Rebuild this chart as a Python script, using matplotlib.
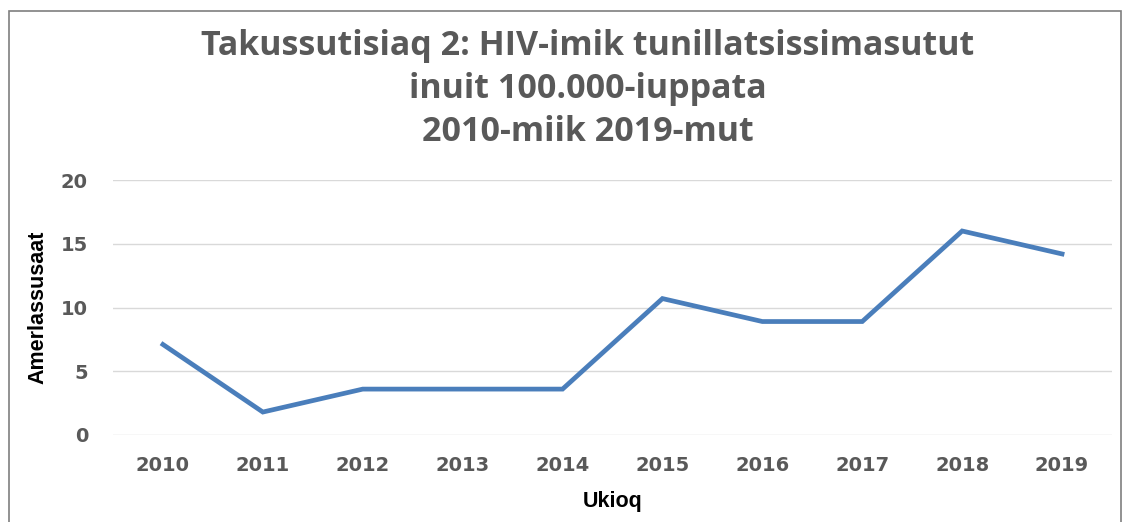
import matplotlib.pyplot as plt
from matplotlib.patches import Rectangle

years = ['2010', '2011', '2012', '2013', '2014', '2015', '2016', '2017', '2018', '2019']
rate = [7.1, 1.8, 3.6, 3.6, 3.6, 10.7, 8.9, 8.9, 16.0, 14.2]
yticks = [0, 5, 10, 15, 20]

title = 'Takussutisiaq 2: HIV-imik tunillatsissimasutut\ninuit 100.000-iuppata\n2010-miik 2019-mut'

fig = plt.figure(figsize=(11.33, 5.22), dpi=100)
ax = fig.add_axes([113/1133, 1 - 435/522, 999/1133, 255/522])

x = range(len(years))
ax.plot(x, rate, color='#4a7ebb', lw=3.4, solid_joinstyle='miter', zorder=3)

ax.set_xlim(-0.5, len(years) - 0.5)
ax.set_ylim(0, 20)
ax.set_yticks(yticks)
ax.set_xticks(list(x))
ax.set_xticklabels(years)
ax.grid(axis='y', color='#d9d9d9', lw=1)
ax.set_axisbelow(True)
for s in ax.spines.values():
    s.set_visible(False)
ax.tick_params(length=0, labelcolor='#595959', labelsize=14)
ax.tick_params(axis='y', pad=18)
ax.tick_params(axis='x', pad=15)
for lab in ax.get_xticklabels() + ax.get_yticklabels():
    lab.set_fontweight('bold')

ax.set_xlabel('Ukioq', fontsize=15.5, fontweight='bold', labelpad=12,
              family=['Liberation Sans Narrow', 'Liberation Sans', 'DejaVu Sans'])
ax.set_ylabel('Amerlassusaat', fontsize=15.5, fontweight='bold', labelpad=9,
              family=['Liberation Sans Narrow', 'Liberation Sans', 'DejaVu Sans'])

fig.text(588/1133, 1 - 89/522, title, ha='center', va='center', fontsize=24.5,
         fontweight='bold', color='#595959', linespacing=1.36,
         family=['Open Sans', 'DejaVu Sans'])

# outer chart frame
fig.patches.append(Rectangle((9/1133, -0.05), 1112/1133, 1 - 11/522 + 0.05,
                             transform=fig.transFigure, fill=False,
                             edgecolor='#7f7f7f', lw=1.2))

fig.savefig('out.png', dpi=100)
